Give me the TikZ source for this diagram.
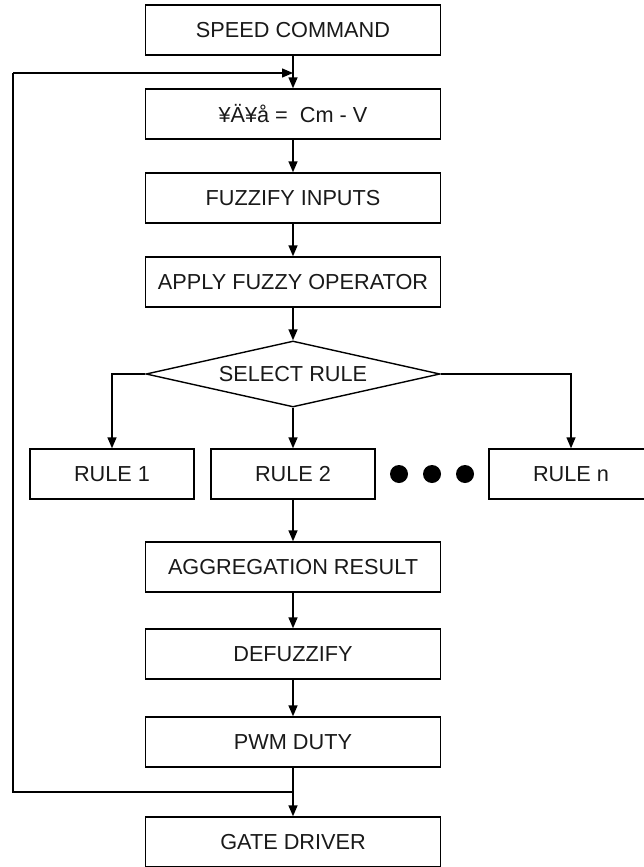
\documentclass[tikz,border=0pt]{standalone}
\usepackage{fontspec}
\setmainfont{Liberation Sans}
\usetikzlibrary{arrows.meta,shapes.geometric}
\begin{document}
\begin{tikzpicture}[x=1pt,y=-1pt,
  box/.style={draw=black, line width=1.4pt, minimum height=50pt, inner sep=0pt, font=\fontsize{21.7}{25}\selectfont, text=black!90},
  mainbox/.style={box, minimum width=295pt},
  rulebox/.style={box, minimum width=164pt},
  decision/.style={shape=diamond, draw=black, line width=1.4pt, minimum width=294pt, minimum height=66pt, aspect=4.45, inner sep=0pt, font=\fontsize{21.7}{25}\selectfont, text=black!90},
  dot/.style={circle, fill=black, minimum size=18pt, inner sep=0pt},
  arr/.style={line width=1.4pt, -{Triangle[length=11pt,width=9pt]}},
  ln/.style={line width=1.4pt}]
\useasboundingbox (0,0) rectangle (644,867);
\node[mainbox] (spd) at (293,30) {SPEED COMMAND};
\node[mainbox] (err) at (293,114) {¥Ä¥å =\ \ Cm - V};
\node[mainbox] (fuz) at (293,198) {FUZZIFY INPUTS};
\node[mainbox] (app) at (293,282) {APPLY FUZZY OPERATOR};
\node[decision] (sel) at (293,374) {SELECT RULE};
\node[rulebox] (r1) at (112,474) {RULE 1};
\node[rulebox] (r2) at (293,474) {RULE 2};
\node[rulebox] (rn) at (571,474) {RULE n};
\node[dot] (d1) at (399,474) {};
\node[dot] (d2) at (432,474) {};
\node[dot] (d3) at (465,474) {};
\node[mainbox] (agg) at (293,567) {AGGREGATION RESULT};
\node[mainbox] (def) at (293,654) {DEFUZZIFY};
\node[mainbox] (pwm) at (293,742) {PWM DUTY};
\node[mainbox] (gate) at (293,842) {GATE DRIVER};
\coordinate (fbT) at (13,73);
\coordinate (fbB) at (13,792);
\draw[arr] (spd) -- (err);
\draw[arr] (err) -- (fuz);
\draw[arr] (fuz) -- (app);
\draw[arr] (app) -- (sel);
\draw[arr] (sel.west) -| (r1.north);
\draw[arr] (sel.east) -| (rn.north);
\draw[arr] (sel) -- (r2);
\draw[arr] (r2) -- (agg);
\draw[arr] (agg) -- (def);
\draw[arr] (def) -- (pwm);
\draw[arr] (pwm) -- (gate);
\draw[ln] (pwm.south |- fbB) -- (fbB) -- (fbT);
\draw[arr] (fbT) -- (spd.south |- fbT);
\end{tikzpicture}
\end{document}
